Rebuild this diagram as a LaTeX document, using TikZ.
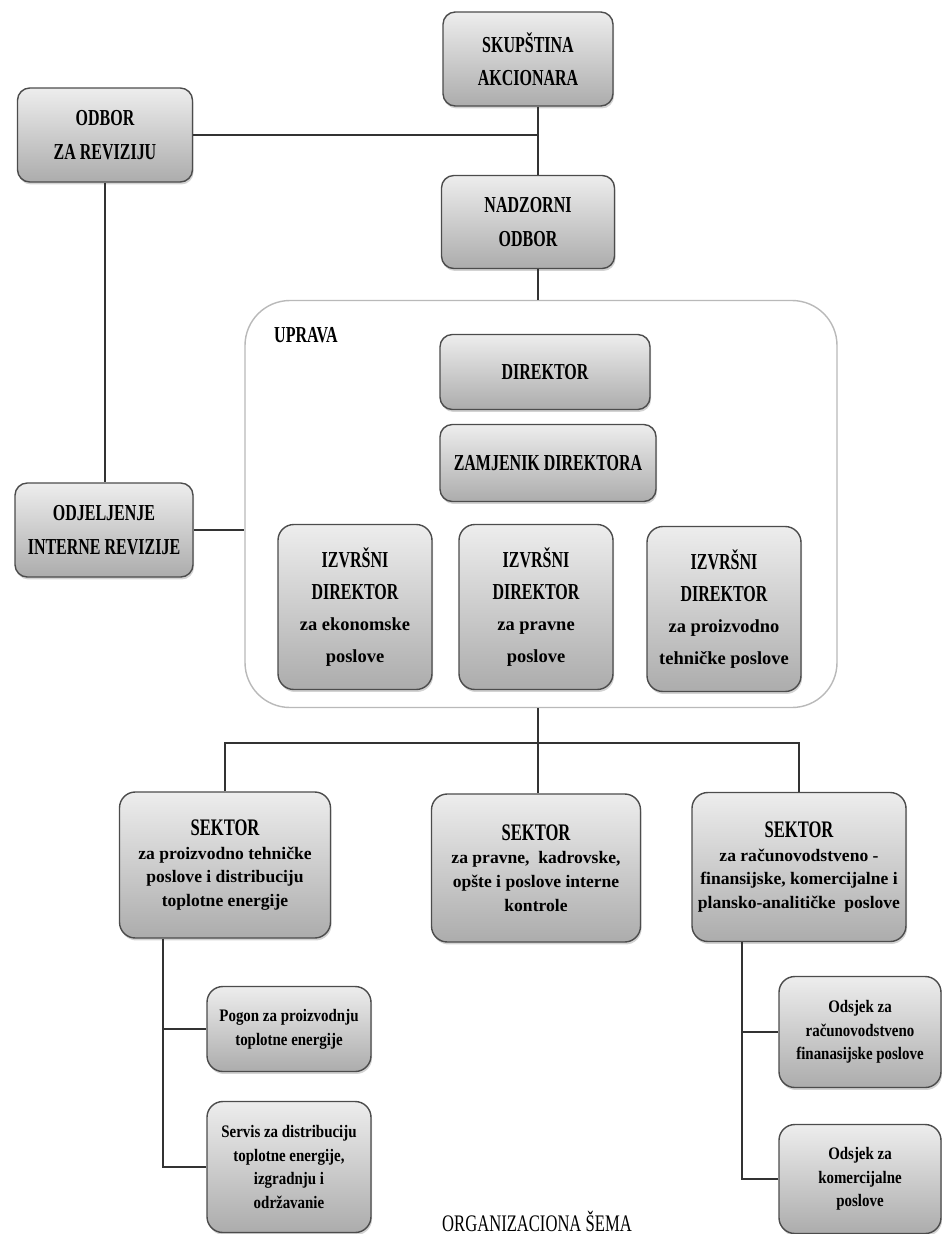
\documentclass[tikz,border=0pt]{standalone}
\usepackage{fontspec}
\setmainfont{Liberation Serif}
\newfontfamily\narrowfont{Liberation Serif}[FakeStretch=0.7]
\newfontfamily\slimfont{Liberation Serif}[FakeStretch=0.85]
\usetikzlibrary{shadows}

\begin{document}
\begin{tikzpicture}[x=0.02cm, y=-0.02cm,
  box/.style={draw=gray!60!black, line width=0.8pt, rounded corners=7pt,
    top color=gray!14, bottom color=gray!65, align=center, inner sep=0pt,
    drop shadow={opacity=0.35, shadow xshift=0.6pt, shadow yshift=-1.4pt}},
  sz/.style 2 args={minimum width=#1*0.02cm, minimum height=#2*0.02cm},
  capsfont/.style={font=\narrowfont\bfseries\fontsize{13}{19}\selectfont},
  link/.style={draw=gray!40!black, line width=1.1pt}]

\useasboundingbox (0,0) rectangle (941,1234);

% Draw the top level
\node[box, capsfont, sz={170}{94}] (skup) at (528,59) {SKUPŠTINA\\AKCIONARA};
\node[box, capsfont, sz={175}{94}] (odbor) at (105,135) {ODBOR\\ZA REVIZIJU};
\node[box, capsfont, sz={173}{93}] (nadz) at (528,222) {NADZORNI\\ODBOR};
\node[box, capsfont, sz={178}{94}] (odj) at (104,530) {ODJELJENJE\\INTERNE REVIZIJE};

% Draw the management frame
\node[draw=gray!55, line width=0.8pt, rounded corners=0.9cm, sz={592}{407}] (uprava) at (541,504) {};
\node[capsfont, anchor=west] (upravalbl) at (268,335) {UPRAVA};
\node[box, capsfont, sz={210}{75}] (dir) at (545,372) {DIREKTOR};
\node[box, capsfont, sz={216}{77}] (zam) at (548,463) {ZAMJENIK DIREKTORA};

% Draw the executive directors
\tikzset{izbox/.style={box, sz={154}{165}, rounded corners=9pt, font=\bfseries\fontsize{10.5}{18}\selectfont}}
\node[izbox] (izek) at (355,607) {{\narrowfont\fontsize{13}{18}\selectfont IZVRŠNI}\\{\narrowfont\fontsize{13}{18}\selectfont DIREKTOR}\\za ekonomske\\poslove};
\node[izbox] (izpr) at (536,607) {{\narrowfont\fontsize{13}{18}\selectfont IZVRŠNI}\\{\narrowfont\fontsize{13}{18}\selectfont DIREKTOR}\\za pravne\\poslove};
\node[izbox] (izte) at (724,609) {{\narrowfont\fontsize{13}{18}\selectfont IZVRŠNI}\\{\narrowfont\fontsize{13}{18}\selectfont DIREKTOR}\\za proizvodno\\tehničke poslove};

% Draw the sectors
\tikzset{sekbox/.style={box, rounded corners=9pt, font=\bfseries\fontsize{10}{13.5}\selectfont}}
\node[sekbox, sz={211}{146}] (sek1) at (225,865) {{\narrowfont\fontsize{13.5}{13.5}\selectfont SEKTOR}\\za proizvodno tehničke\\poslove i distribuciju\\toplotne energije};
\node[sekbox, sz={209}{148}] (sek2) at (536,868) {{\narrowfont\fontsize{13.5}{13.5}\selectfont SEKTOR}\\za pravne,~ kadrovske,\\opšte i poslove interne\\kontrole};
\node[sekbox, sz={214}{149}] (sek3) at (799,867) {{\narrowfont\fontsize{13.5}{13.5}\selectfont SEKTOR}\\za računovodstveno -\\finansijske, komercijalne i\\plansko-analitičke~ poslove};

% Draw the departments
\tikzset{odbox/.style={box, rounded corners=9pt, font=\slimfont\bfseries\fontsize{10}{13.5}\selectfont}}
\node[odbox, sz={164}{85}] (pogon) at (289,1029) {Pogon za proizvodnju\\toplotne energije};
\node[odbox, sz={164}{131}] (servis) at (289,1167) {Servis za distribuciju\\toplotne energije,\\izgradnju i\\održavanie};
\node[odbox, sz={162}{111}] (ods1) at (860,1032) {Odsjek za\\računovodstveno\\finanasijske poslove};
\node[odbox, sz={162}{109}] (ods2) at (860,1179) {Odsjek za\\komercijalne\\poslove};

% Draw the caption
\node[font=\narrowfont\fontsize{13.5}{15}\selectfont] (title) at (537,1221) {ORGANIZACIONA ŠEMA};

% Draw the connecting lines
\coordinate (trunk) at (538,138);
\coordinate (bus) at (538,743);
\coordinate (lspine) at (163,0);
\coordinate (rspine) at (742,0);
\draw[link] (skup.south -| trunk) -- (nadz.north -| trunk);
\draw[link] (odbor.east) -- (odbor.east -| trunk);
\draw[link] (nadz.south -| trunk) -- (uprava.north -| trunk);
\draw[link] (odbor.south) -- (odbor.south |- odj.north);
\draw[link] (odj.east) -- (odj.east -| uprava.west);
\draw[link] (uprava.south -| bus) -- (sek2.north -| bus);
\draw[link] (sek1.north) |- (bus) -| (sek3.north);
\draw[link] (sek1.south -| lspine) |- (servis.west);
\draw[link] (lspine |- pogon.west) -- (pogon.west);
\draw[link] (sek3.south -| rspine) |- (ods2.west);
\draw[link] (rspine |- ods1.west) -- (ods1.west);

\end{tikzpicture}
\end{document}
